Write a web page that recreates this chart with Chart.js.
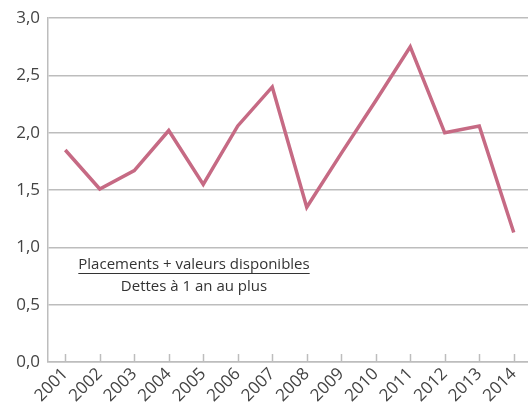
<!DOCTYPE html>
<html>
<head>
<meta charset="utf-8">
<script src="https://cdn.jsdelivr.net/npm/chart.js@4"></script>
<style>
  html, body { margin: 0; padding: 0; background: #fff; overflow: hidden; }
  #wrap { width: 531px; height: 406px; }
</style>
</head>
<body>
<div id="wrap"><canvas id="chart" width="531" height="406"></canvas></div>
<script>
const years = ["2001", "2002", "2003", "2004", "2005", "2006", "2007",
  "2008", "2009", "2010", "2011", "2012", "2013", "2014"];
const ratio = [1.85, 1.51, 1.67, 2.02, 1.55, 2.06, 2.40,
  1.35, 1.82, 2.28, 2.75, 2.00, 2.06, 1.13];
const yTicks = [0, 0.5, 1, 1.5, 2, 2.5, 3];
const noteTop = "Placements + valeurs disponibles";
const noteBottom = "Dettes à 1 an au plus";

const fontName = "'Open Sans', 'Noto Sans', sans-serif";

// small tick marks drawn upward from the x axis + the fraction note
const decor = {
  id: "decor",
  afterDraw(chart) {
    const ctx = chart.ctx;
    const x = chart.scales.x;
    const area = chart.chartArea;
    ctx.save();
    ctx.strokeStyle = "#bdbdbd";
    ctx.lineWidth = 1.5;
    years.forEach((y, i) => {
      const px = Math.round(x.getPixelForTick(i)) + 0.5;
      ctx.beginPath();
      ctx.moveTo(px, area.bottom);
      ctx.lineTo(px, area.bottom - 8);
      ctx.stroke();
    });

    const cx = area.left + 146;
    ctx.fillStyle = "#333";
    ctx.font = "15px " + fontName;
    ctx.textAlign = "center";
    ctx.textBaseline = "alphabetic";
    ctx.fillText(noteTop, cx, 269);
    const w = ctx.measureText(noteTop).width;
    ctx.strokeStyle = "#333";
    ctx.lineWidth = 1;
    ctx.beginPath();
    ctx.moveTo(cx - w / 2, 273.5);
    ctx.lineTo(cx + w / 2, 273.5);
    ctx.stroke();
    ctx.fillText(noteBottom, cx, 291);
    ctx.restore();
  },
};

const chart = new Chart(document.getElementById("chart"), {
  type: "line",
  data: {
    labels: years,
    datasets: [
      {
        data: ratio,
        borderColor: "rgb(198, 106, 132)",
        borderWidth: 3.5,
        pointRadius: 0,
        tension: 0,
        fill: false,
      },
    ],
  },
  options: {
    responsive: false,
    animation: false,
    layout: { padding: { top: 11, right: 0, bottom: 0, left: 0 } },
    plugins: {
      legend: { display: false },
      tooltip: { enabled: false },
    },
    scales: {
      x: {
        offset: true,
        grid: { display: false, drawTicks: false },
        border: { display: true, color: "#bdbdbd", width: 1.5 },
        ticks: {
          color: "#444",
          font: { family: fontName, size: 17 },
          maxRotation: 45,
          minRotation: 45,
          padding: 2,
        },
        afterFit(scale) {
          scale.height = 44;
        },
      },
      y: {
        min: 0,
        max: 3,
        afterBuildTicks(scale) {
          scale.ticks = yTicks.map((v) => ({ value: v }));
        },
        grid: { color: "#bdbdbd", lineWidth: 1.5, drawTicks: false },
        border: { display: true, color: "#bdbdbd", width: 1.5 },
        ticks: {
          color: "#444",
          font: { family: fontName, size: 17 },
          padding: 8,
          callback: (v) => v.toFixed(1).replace(".", ","),
        },
        afterFit(scale) {
          scale.width = 48;
        },
      },
    },
  },
  plugins: [decor],
});
</script>
</body>
</html>
